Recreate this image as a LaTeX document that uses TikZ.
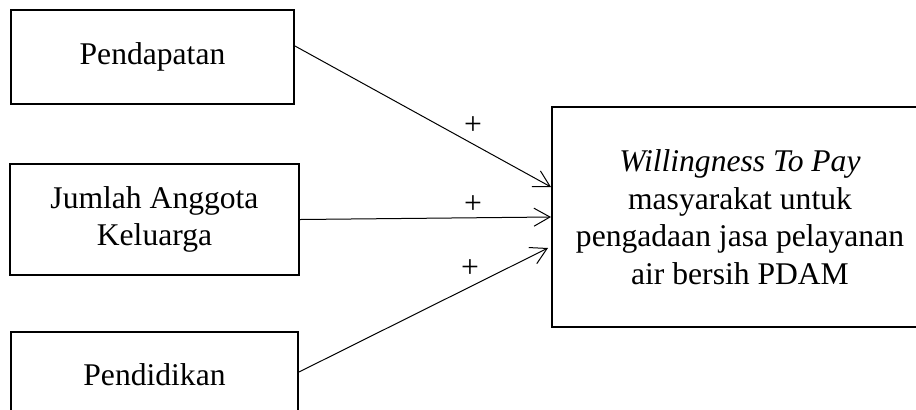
\documentclass[tikz,border=0pt]{standalone}
\usepackage{fontspec}
\setmainfont{Liberation Serif}
\usetikzlibrary{arrows.meta}
\begin{document}
\begin{tikzpicture}[x=0.5pt,y=-0.5pt,
  box/.style={draw=black,line width=1pt,inner sep=0pt,align=center,
    font=\fontsize{15.8}{18.75}\selectfont},
  link/.style={draw=black,line width=0.5pt,-{Straight Barb[length=8pt,width=9pt,line width=0.5pt]}},
  sign/.style={inner sep=0pt,font=\fontsize{15.8}{18.75}\selectfont}]
\useasboundingbox (0,0) rectangle (916,409);
\begin{scope}
\clip (0,0) rectangle (916,409);
\node[box,minimum width=141.5pt,minimum height=47pt] (pend) at (152.5,57) {Pendapatan};
\node[box,minimum width=144.5pt,minimum height=55.5pt] (jml) at (154.5,219.5) {Jumlah Anggota\\Keluarga};
\node[box,minimum width=143.5pt,minimum height=43pt] (pdk) at (154.5,375) {Pendidikan};
\node[box,minimum width=200pt,minimum height=110pt] (wtp) at (752,217) {};
\node[inner sep=0pt,align=center,font=\fontsize{15.8}{18.75}\selectfont] (wtptext) at (740,217)
  {\textit{Willingness To Pay}\\masyarakat untuk\\pengadaan jasa pelayanan\\air bersih PDAM};
\draw[link] ([yshift=5.5pt]pend.east) -- ([yshift=15pt]wtp.west);
\draw[link] (jml.east) -- (wtp.west);
\draw[link] ([yshift=1.5pt]pdk.east) -- ([xshift=-1.5pt,yshift=-15.5pt]wtp.west);
\node[sign] (p1) at (473,126) {+};
\node[sign] (p2) at (473,205) {+};
\node[sign] (p3) at (470,269) {+};
\end{scope}
\end{tikzpicture}
\end{document}
